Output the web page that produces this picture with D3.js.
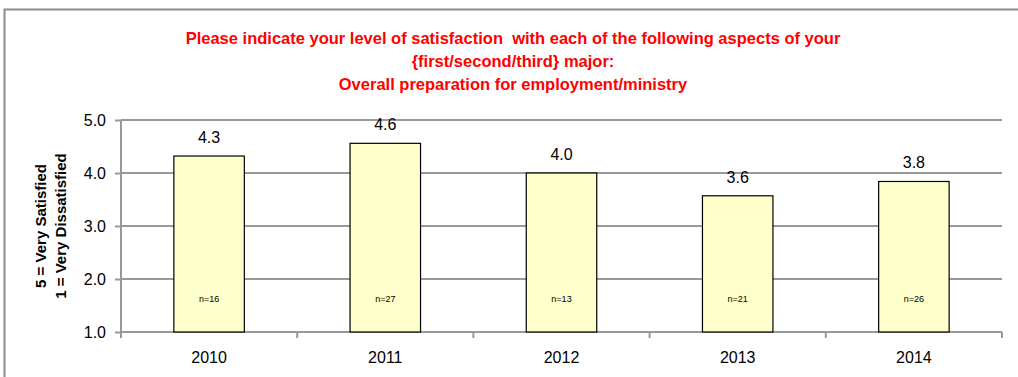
<!DOCTYPE html>
<html>
<head>
<meta charset="utf-8">
<script src="https://cdn.jsdelivr.net/npm/d3@7"></script>
<style>
  html, body { margin: 0; padding: 0; background: #fff; }
  svg { display: block; }
  text { font-family: "Liberation Sans", Arial, sans-serif; }
</style>
</head>
<body>
<svg id="chart" width="1018" height="377"></svg>
<script>
// Survey results by year
const years = ["2010", "2011", "2012", "2013", "2014"];
const meanScores = [4.32, 4.56, 4.0, 3.57, 3.84];
const respondents = [16, 27, 13, 21, 26];
const yTicks = [1.0, 2.0, 3.0, 4.0, 5.0];
const titleLines = [
  "Please indicate your level of satisfaction  with each of the following aspects of your",
  "{first/second/third} major:",
  "Overall preparation for employment/ministry"
];
const yTitleLines = ["5 = Very Satisfied", "1 = Very Dissatisfied"];

const svg = d3.select("#chart");
const margin = { left: 121, right: 1002, top: 120, bottom: 332 };

// outer frame (top and left edges visible)
svg.append("path")
  .attr("d", `M4.5,377 L4.5,9.5 L1018,9.5`)
  .attr("fill", "none")
  .attr("stroke", "#8c8c8c")
  .attr("stroke-width", 2);

const x = d3.scaleBand()
  .domain(years)
  .range([margin.left, margin.right])
  .paddingInner(0.6)
  .paddingOuter(0.3);

const y = d3.scaleLinear()
  .domain([1, 5])
  .range([margin.bottom, margin.top]);

// y axis tick marks and labels
const yAxis = d3.axisLeft(y)
  .tickValues(yTicks)
  .tickFormat(d3.format(".1f"))
  .tickSize(6)
  .tickPadding(9);

const gY = svg.append("g")
  .attr("transform", `translate(${margin.left},0)`)
  .call(yAxis);
gY.select(".domain").remove();
gY.selectAll(".tick line").attr("stroke", "#999").attr("stroke-width", 2);
gY.selectAll(".tick text")
  .attr("font-size", 16)
  .attr("fill", "#000")
  .style("font-family", "'Liberation Sans', Arial, sans-serif");

// horizontal gridlines
svg.append("g")
  .selectAll("line")
  .data(yTicks)
  .join("line")
  .attr("x1", margin.left)
  .attr("x2", margin.right)
  .attr("y1", d => y(d))
  .attr("y2", d => y(d))
  .attr("stroke", "#999")
  .attr("stroke-width", 2);

// vertical axis line
svg.append("line")
  .attr("x1", margin.left).attr("x2", margin.left)
  .attr("y1", margin.top).attr("y2", margin.bottom + 6)
  .attr("stroke", "#999").attr("stroke-width", 2);

// category tick marks at band boundaries
const boundaries = d3.range(years.length + 1).map(i => margin.left + i * (margin.right - margin.left) / years.length);
svg.append("g")
  .selectAll("line")
  .data(boundaries)
  .join("line")
  .attr("x1", d => d).attr("x2", d => d)
  .attr("y1", margin.bottom).attr("y2", margin.bottom + 6)
  .attr("stroke", "#999").attr("stroke-width", 2);

// bars
const data = years.map((yr, i) => ({ year: yr, value: meanScores[i], n: respondents[i] }));

svg.append("g")
  .selectAll("rect")
  .data(data)
  .join("rect")
  .attr("x", d => x(d.year))
  .attr("width", x.bandwidth())
  .attr("y", d => y(d.value))
  .attr("height", d => y(1) - y(d.value))
  .attr("fill", "#ffffcc")
  .attr("stroke", "#000")
  .attr("stroke-width", 1.2);

// value labels
svg.append("g")
  .selectAll("text")
  .data(data)
  .join("text")
  .attr("x", d => x(d.year) + x.bandwidth() / 2)
  .attr("y", d => y(d.value) - 13)
  .attr("text-anchor", "middle")
  .attr("font-size", 16)
  .attr("fill", "#000")
  .text(d => d3.format(".1f")(d.value));

// respondent counts
svg.append("g")
  .selectAll("text")
  .data(data)
  .join("text")
  .attr("x", d => x(d.year) + x.bandwidth() / 2)
  .attr("y", 302)
  .attr("text-anchor", "middle")
  .attr("font-size", 9)
  .attr("fill", "#000")
  .text(d => "n=" + d.n);

// category labels
svg.append("g")
  .selectAll("text")
  .data(years)
  .join("text")
  .attr("x", d => x(d) + x.bandwidth() / 2)
  .attr("y", 363)
  .attr("text-anchor", "middle")
  .attr("font-size", 16)
  .attr("fill", "#000")
  .text(d => d);

// title
svg.append("g")
  .selectAll("text")
  .data(titleLines)
  .join("text")
  .attr("x", 513)
  .attr("y", (d, i) => 44 + i * 23)
  .attr("text-anchor", "middle")
  .attr("font-size", 16.5)
  .attr("font-weight", "bold")
  .attr("fill", "#ff0000")
  .style("white-space", "pre")
  .text(d => d);

// y axis title
const cy = (margin.top + margin.bottom) / 2;
svg.append("g")
  .selectAll("text")
  .data(yTitleLines)
  .join("text")
  .attr("transform", (d, i) => `translate(${46 + i * 20},${cy}) rotate(-90)`)
  .attr("text-anchor", "middle")
  .attr("font-size", 15)
  .attr("font-weight", "bold")
  .attr("fill", "#000")
  .text(d => d);
</script>
</body>
</html>
